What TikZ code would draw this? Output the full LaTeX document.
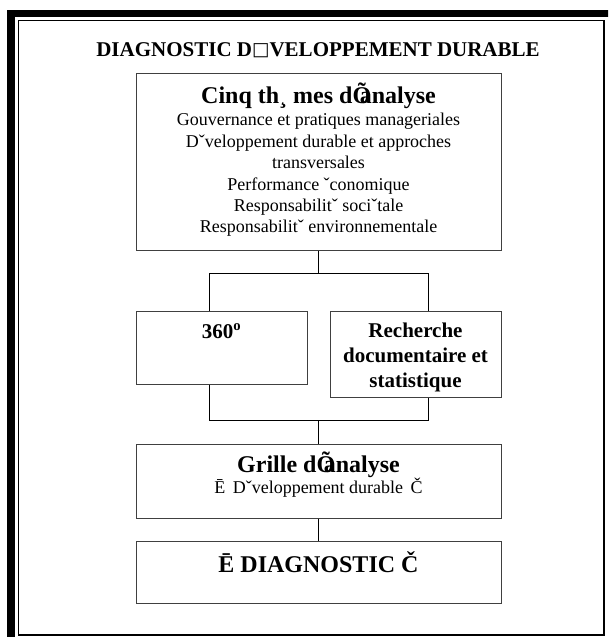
\documentclass[tikz,border=0pt]{standalone}
\usepackage{fontspec}
\setmainfont{Liberation Serif}
\newfontfamily\symfont{DejaVu Sans}
\usetikzlibrary{calc}

\tikzset{
  box/.style={draw=black!75, line width=1pt, inner sep=0pt},
  conn/.style={draw=black, line width=1pt},
  txt/.style={inner sep=0pt, align=center, text=black},
}

\begin{document}
\begin{tikzpicture}[x=1pt, y=-1pt]

    \useasboundingbox (0,0) rectangle (608,637);

    % --- Cadre double ---
    \begin{scope}
      \clip (0,0) rectangle (608,637);
      \draw[line width=7.5pt] (11,13.5) rectangle (614,643);
    \end{scope}
    \draw[line width=1.5pt] (18.5,20.5) rectangle (604,635);

    % Titre
    \node[txt, font=\fontsize{21}{24}\selectfont\bfseries] (titre) at (318,50)
    {DIAGNOSTIC D\raisebox{0.5pt}{\symfont\fontsize{18.5}{20}\selectfont □}VELOPPEMENT DURABLE};

    % --- Boites ---
    \node[box, minimum width=365pt, minimum height=177pt] (themes) at (318.5,161.5) {};
    \node[box, minimum width=171pt, minimum height=73pt] (b360) at (221.5,347.5) {};
    \node[box, minimum width=171pt, minimum height=86pt] (brech) at (415.5,354) {};
    \node[box, minimum width=365pt, minimum height=74pt] (grille) at (318.5,481) {};
    \node[box, minimum width=365pt, minimum height=62pt] (diag) at (318.5,572) {};

    % textes des boites
    \node[txt, font=\fontsize{24}{28}\selectfont\bfseries] (themestitre) at (318.5,96)
    {Cinq th¸ mes d\makebox[0.3em][l]{Õ}analyse};
    \node[txt, font=\fontsize{18}{21.4}\selectfont] (themesliste) at (318.5,175)
    {Gouvernance et pratiques manageriales\\
     Dˇveloppement durable et approches\\
     transversales\\
     Performance ˇconomique\\
     Responsabilitˇ sociˇtale\\
     Responsabilitˇ environnementale};

    \node[txt, font=\fontsize{21}{25}\selectfont\bfseries] (t360) at (221.5,331)
    {360\textsuperscript{o}};
    \node[txt, font=\fontsize{21}{25}\selectfont\bfseries] (trech) at (415.5,357)
    {Recherche\\ documentaire et\\ statistique};

    \node[txt, font=\fontsize{24}{28}\selectfont\bfseries] (grilletitre) at (318.5,465)
    {Grille d\makebox[0.3em][l]{Õ}analyse};
    \node[txt, font=\fontsize{18}{21}\selectfont] (grillesous) at (318.5,488)
    {Ē\, Dˇveloppement durable\, Č};

    \node[txt, font=\fontsize{24}{28}\selectfont\bfseries] (diagtitre) at (318.5,562)
    {Ē DIAGNOSTIC Č};

    % --- Liaisons ---
    \coordinate (splitl) at (209,273);
    \coordinate (splitr) at (428,273);
    \coordinate (joinl) at (209,420);
    \coordinate (joinr) at (428,420);

    \draw[conn] (themes.south) -- (themes.south |- splitl);
    \draw[conn] (b360.north -| splitl) -- (splitl) -- (splitr) -- (brech.north -| splitr);
    \draw[conn] (b360.south -| joinl) -- (joinl) -- (joinr) -- (brech.south -| joinr);
    \draw[conn] (joinl -| grille.north) -- (grille.north);
    \draw[conn] (grille.south) -- (diag.north);

  \end{tikzpicture}
\end{document}
